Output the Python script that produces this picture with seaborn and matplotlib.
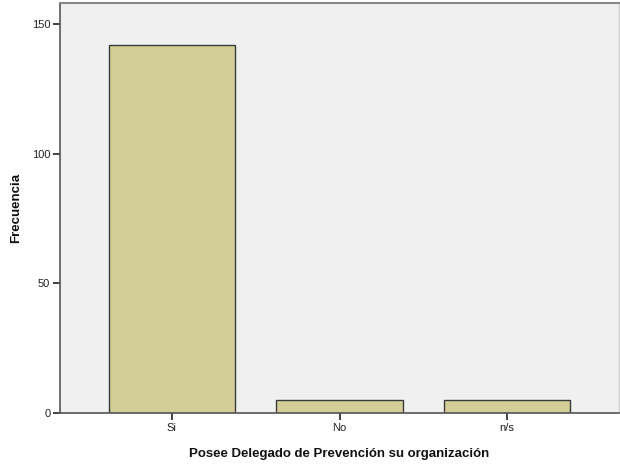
import numpy as np
import pandas as pd
import matplotlib
matplotlib.use("Agg")
import matplotlib.pyplot as plt
import seaborn as sns

# Datos
categorias = ["Si", "No", "n/s"]
frecuencias = [142, 5, 5]
yticks = [0, 50, 100, 150]

sns.set_theme(style="white")
plt.rcParams['font.family'] = ['Liberation Sans', 'DejaVu Sans']

df = pd.DataFrame({"categoria": categorias, "frecuencia": frecuencias})

fig = plt.figure(figsize=(6.2, 4.65), dpi=100)
ax = fig.add_axes([60 / 620, 52 / 465, 559 / 620, 410 / 465])
ax.set_facecolor("#F0F0F0")

sns.barplot(data=df, x="categoria", y="frecuencia", color="#D3CE97",
            width=0.755, edgecolor="#3a3a3a", linewidth=1.0, saturation=1, ax=ax)

ax.set_xlim(-0.667, 2.667)
ax.set_ylim(0, 158)
ax.set_yticks(yticks)
ax.set_yticklabels([str(t) for t in yticks])

ax.tick_params(axis="both", direction="out", length=5, width=1.2, color="#222222",
               labelsize=8, labelcolor="#222222", pad=2, left=True, bottom=True)

for s in ["left", "bottom"]:
    ax.spines[s].set_color("#555555")
    ax.spines[s].set_linewidth(1.2)
ax.spines["top"].set_color("#888888")
ax.spines["top"].set_linewidth(1.5)
ax.spines["right"].set_color("#cccccc")
ax.spines["right"].set_linewidth(1.0)

ax.set_xlabel("Posee Delegado de Prevención su organización", fontsize=9.5,
              fontweight="bold", color="#111111", labelpad=11)
ax.set_ylabel("Frecuencia", fontsize=9.5, fontweight="bold", color="#111111", labelpad=7)

fig.savefig("out.png", dpi=100)
